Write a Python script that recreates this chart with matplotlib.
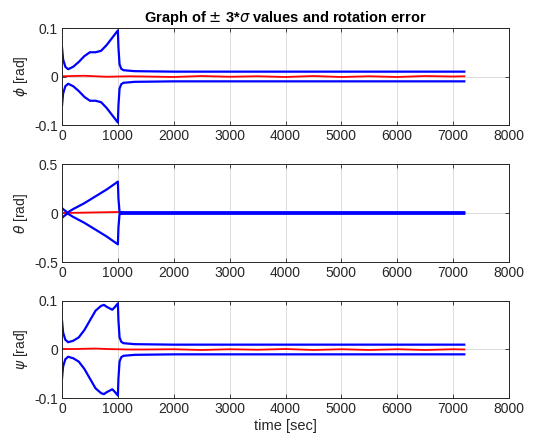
import numpy as np
import matplotlib
matplotlib.use('Agg')
import matplotlib.pyplot as plt

plt.rcParams['font.family'] = ['Liberation Sans', 'DejaVu Sans']
plt.rcParams['mathtext.fontset'] = 'dejavusans'

# 3-sigma envelopes, time in sec
t_phi = [0, 20, 60, 110, 200, 300, 400, 500, 600, 700, 800, 900, 1000, 1010, 1030, 1060, 1100, 1300, 2000, 4000, 7200]
phi_sig = [0.06, 0.035, 0.02, 0.015, 0.02, 0.03, 0.042, 0.05, 0.05, 0.053, 0.065, 0.08, 0.095, 0.06, 0.025, 0.016, 0.013, 0.011, 0.01, 0.01, 0.01]

t_theta = [0, 50, 100, 200, 400, 600, 800, 1000, 1010, 1030, 1100, 2000, 7200]
theta_sig = [0.05, 0.025, 0.005, 0.04, 0.1, 0.17, 0.24, 0.32, 0.15, 0.01, 0.008, 0.008, 0.008]

t_psi = [0, 20, 60, 110, 200, 300, 400, 500, 600, 700, 750, 800, 900, 950, 1000, 1010, 1030, 1060, 1100, 1300, 2000, 4000, 7200]
psi_sig = [0.06, 0.035, 0.02, 0.015, 0.018, 0.025, 0.04, 0.06, 0.08, 0.09, 0.092, 0.088, 0.082, 0.088, 0.095, 0.06, 0.025, 0.016, 0.013, 0.011, 0.01, 0.01, 0.01]

# rotation error
t_err = [0, 200, 400, 600, 800, 1000, 1200, 1500, 2000, 2500, 3000, 3500, 4000, 4500, 5000, 5500, 6000, 6500, 7000, 7200]
phi_err = [0.0005, 0.001, 0.0015, 0.0005, -0.0005, 0.0, 0.0005, 0.0, -0.001, 0.001, -0.0005, 0.0005, -0.001, 0.001, -0.001, 0.0005, -0.001, 0.001, 0.0, 0.0005]
theta_err = [0.0, 0.002, 0.004, 0.006, 0.008, 0.01, 0.0, 0.0, 0.0, 0.0, 0.0, 0.0, 0.0, 0.0, 0.0, 0.0, 0.0, 0.0, 0.0, 0.0]
psi_err = [0.001, 0.001, 0.0015, 0.002, 0.001, 0.0005, 0.0, 0.0, 0.0005, -0.001, 0.0005, -0.0005, 0.001, -0.001, 0.0005, -0.001, 0.0005, -0.001, 0.0005, 0.0]

panels = [
    (t_phi, phi_sig, phi_err, r'$\phi$ [rad]', [-0.1, 0.1], [-0.1, 0, 0.1], ['-0.1', '0', '0.1']),
    (t_theta, theta_sig, theta_err, r'$\theta$ [rad]', [-0.5, 0.5], [-0.5, 0, 0.5], ['-0.5', '0', '0.5']),
    (t_psi, psi_sig, psi_err, r'$\psi$ [rad]', [-0.1, 0.1], [-0.1, 0, 0.1], ['-0.1', '0', '0.1']),
]

fig = plt.figure(figsize=(5.47, 4.48), dpi=100)
W, H = 547.0, 448.0
boxes = [(28, 125), (164, 262), (301, 398)]
left, right = 62, 509
axc = '#262626'
fs = 10

for (top, bot), (t, sig, err, ylab, ylim, yt, ytl) in zip(boxes, panels):
    ax = fig.add_axes([left / W, 1 - bot / H, (right - left) / W, (bot - top) / H])
    ax.plot(t_err, err, color='red', lw=1.3)
    ax.plot(t, sig, color='blue', lw=1.6)
    ax.plot(t, -np.array(sig), color='blue', lw=1.6)
    ax.set_xlim(0, 8000)
    ax.set_ylim(ylim)
    ax.set_xticks(range(0, 8001, 1000))
    ax.set_yticks(yt)
    ax.set_yticklabels(ytl)
    ax.grid(True, color='#dcdcdc', lw=0.7)
    ax.set_axisbelow(True)
    ax.tick_params(direction='in', length=3, width=0.6, colors=axc, labelsize=fs,
                   top=True, right=True, labelcolor='#262626', pad=3)
    for s in ax.spines.values():
        s.set_color(axc)
        s.set_linewidth(0.7)
    ax.set_ylabel(ylab, fontsize=fs, color='#262626', labelpad=3)
    if top == 28:
        ax.set_title(r'Graph of $\pm$ 3*$\sigma$ values and rotation error',
                     fontsize=10.5, fontweight='bold', pad=4)
    if top == 301:
        ax.set_xlabel('time [sec]', fontsize=fs + 0.5, color='#262626', labelpad=2)

fig.savefig('out.png', dpi=100)
